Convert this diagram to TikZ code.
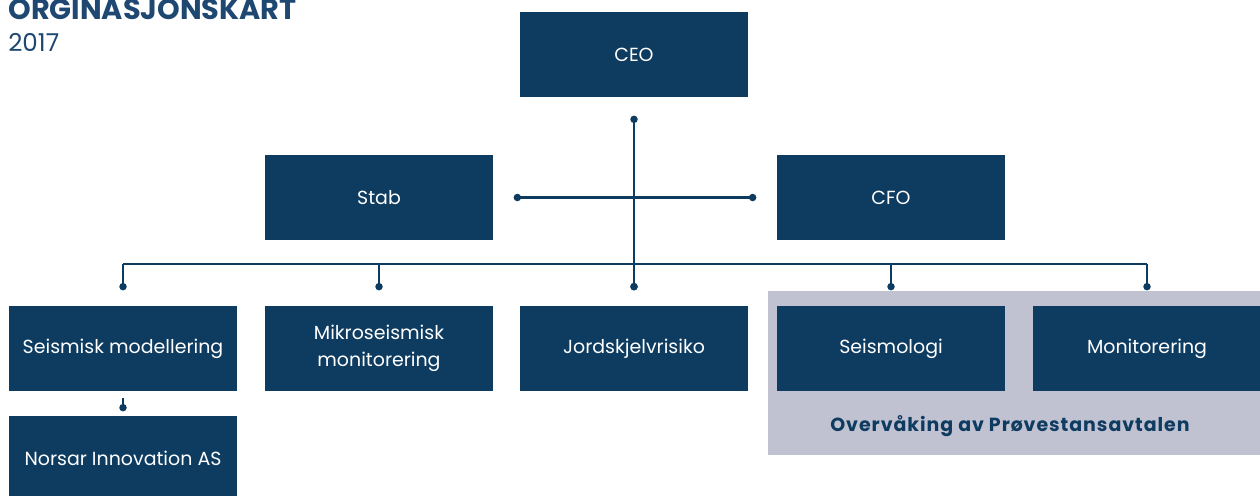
\documentclass[tikz,border=0pt]{standalone}
\usepackage{fontspec}
\setmainfont{Poppins}
\usetikzlibrary{positioning, calc}
\definecolor{orgnavy}{HTML}{0E3B60}
\definecolor{titleblue}{HTML}{1E4871}
\definecolor{panelgrey}{HTML}{C0C1D1}

\begin{document}
\begin{tikzpicture}
  \useasboundingbox (0,0) rectangle (25.2,-9.9);

  \tikzset{
    unit/.style={fill=orgnavy, text=white, minimum width=4.56cm, minimum height=1.70cm,
      inner sep=0pt, align=center, font=\fontsize{10.8}{15.2}\selectfont},
    mainline/.style={orgnavy, line width=1.6pt},
    busline/.style={orgnavy, line width=1.1pt},
    dot/.style={fill=orgnavy}
  }

  % Title
  \node[titleblue, anchor=base west, inner sep=0pt, font=\fontsize{16.4}{16.4}\selectfont\bfseries] (title) at (0.16,-0.38) {ORGINASJONSKART};
  \node[titleblue, anchor=base west, inner sep=0pt, font=\fontsize{14}{14}\selectfont] (year) at (0.16,-1.04) {2017};

  % Grey panel behind the treaty units
  \fill[panelgrey] (15.36,-5.82) rectangle (25.3,-9.10);
  \node[orgnavy, font=\fontsize{10.8}{10.8}\selectfont\bfseries\addfontfeature{LetterSpace=5}] (ctbt) at (20.2,-8.52) {Overvåking av Prøvestansavtalen};

  % Top levels
  \node[unit] (ceo) at (12.68,-1.09) {CEO};
  \node[unit] (stab) at (7.58,-3.95) {Stab};
  \node[unit] (cfo) at (17.82,-3.95) {CFO};

  % Departments
  \node[unit] (seis) at (2.46,-6.97) {Seismisk modellering};
  \node[unit] (mikro) at (7.58,-6.97) {Mikroseismisk\\monitorering};
  \node[unit] (jord) at (12.68,-6.97) {Jordskjelvrisiko};
  \node[unit] (seismo) at (17.82,-6.97) {Seismologi};
  \node[unit] (moni) at (22.94,-6.97) {Monitorering};
  \node[unit] (norsar) at (2.46,-9.17) {Norsar Innovation AS};

  % Connectors
  \coordinate (bus) at (0,-5.28);
  \coordinate (ceo-dot) at ([yshift=-0.44cm]ceo.south);
  \coordinate (stab-dot) at ([xshift=0.48cm]stab.east);
  \coordinate (cfo-dot) at ([xshift=-0.48cm]cfo.west);

  \foreach \n in {seis, mikro, jord, seismo, moni} {
    \coordinate (\n-dot) at ([yshift=0.38cm]\n.north);
    \draw[busline] (\n-dot) -- (\n-dot |- bus);
    \fill[dot] (\n-dot) circle (0.075);
  }
  \draw[busline] (seis-dot |- bus) -- (moni-dot |- bus);

  \draw[mainline] (ceo-dot) -- (jord-dot);
  \draw[mainline] (stab-dot) -- (cfo-dot);
  \foreach \p in {ceo-dot, stab-dot, cfo-dot, jord-dot}
    \fill[dot] (\p) circle (0.075);

  \coordinate (norsar-dot) at ([yshift=0.16cm]norsar.north);
  \draw[busline] ([yshift=-0.14cm]seis.south) -- (norsar-dot);
  \fill[dot] (norsar-dot) circle (0.075);
\end{tikzpicture}
\end{document}
